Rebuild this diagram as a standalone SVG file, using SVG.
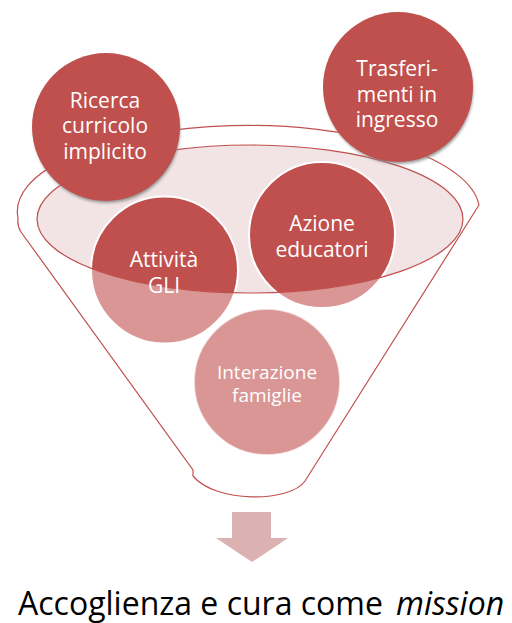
<svg xmlns="http://www.w3.org/2000/svg" width="512" height="623" viewBox="0 0 512 623">
<defs>
<style>
.outline{fill:none;stroke:#c0504d;stroke-width:1.2}
.lbl{font-family:"Open Sans","Liberation Sans",sans-serif;font-size:21px;fill:#ffffff;text-anchor:middle}
.dark{fill:#c0504d}
.light{fill:#d99694}
.ring{fill:none;stroke:#ffffff;stroke-width:2}
.cap{font-family:"Open Sans","Liberation Sans",sans-serif;font-size:32px;fill:#000000}
</style>
<clipPath id="rim"><ellipse cx="250" cy="219" rx="213" ry="74"/></clipPath>
<filter id="sh" x="-20%" y="-20%" width="140%" height="150%"><feGaussianBlur stdDeviation="1.5"/></filter>
</defs>
<g id="funnel">
<path class="outline" d="M193,476 L193,470 L21,232 Q17,226 18,218 A231,86 0 0 1 479,205 L305,481 C290,503 215,503 193,476 Z"/>
<ellipse cx="250" cy="219" rx="213" ry="74" fill="#f2e4e5"/>
</g>
<g id="connectors">
<path d="M232,512 H271 V538 H288 L252,562 L216,538 H232 Z" fill="#dcb1b2"/>
</g>
<g id="interazione">
<circle class="light" cx="267" cy="382" r="73"/>
<circle class="ring" cx="267" cy="382" r="73" stroke-opacity="0.6"/>
<text class="lbl" x="267" y="379" style="font-size:19px">Interazione</text>
<text class="lbl" x="267" y="402" style="font-size:19px">famiglie</text>
</g>
<g id="attivita">
<circle class="light" cx="164.5" cy="270" r="73.5"/>
<circle class="dark" cx="164.5" cy="270" r="73.5" clip-path="url(#rim)"/>
<circle class="ring" cx="164.5" cy="270" r="73.5"/>
</g>
<g id="azione">
<circle class="light" cx="322" cy="235" r="73"/>
<circle class="dark" cx="322" cy="235" r="73" clip-path="url(#rim)"/>
<circle class="ring" cx="322" cy="235" r="73"/>
</g>
<ellipse class="outline" cx="250" cy="219" rx="213" ry="74"/>
<g id="attivita-text">
<text class="lbl" x="164" y="267">Attività</text>
<text class="lbl" x="164" y="293">GLI</text>
</g>
<g id="azione-text">
<text class="lbl" x="322" y="231">Azione</text>
<text class="lbl" x="322" y="257">educatori</text>
</g>
<g id="ricerca">
<circle cx="107" cy="130" r="73" fill="#7f7f7f" opacity="0.8" filter="url(#sh)"/>
<circle class="dark" cx="106" cy="127" r="74"/>
<text class="lbl" x="105" y="108">Ricerca</text>
<text class="lbl" x="105" y="133">curricolo</text>
<text class="lbl" x="105" y="159">implicito</text>
</g>
<g id="trasferimenti">
<circle cx="399" cy="90" r="74" fill="#7f7f7f" opacity="0.8" filter="url(#sh)"/>
<circle class="dark" cx="398" cy="87" r="75"/>
<text class="lbl" x="397" y="76">Trasferi-</text>
<text class="lbl" x="397" y="102">menti in</text>
<text class="lbl" x="397" y="127">ingresso</text>
</g>
<g id="caption">
<text class="cap" x="18" y="615">Accoglienza e cura come</text>
<text class="cap" x="396" y="615" font-style="italic">mission</text>
</g>
</svg>
